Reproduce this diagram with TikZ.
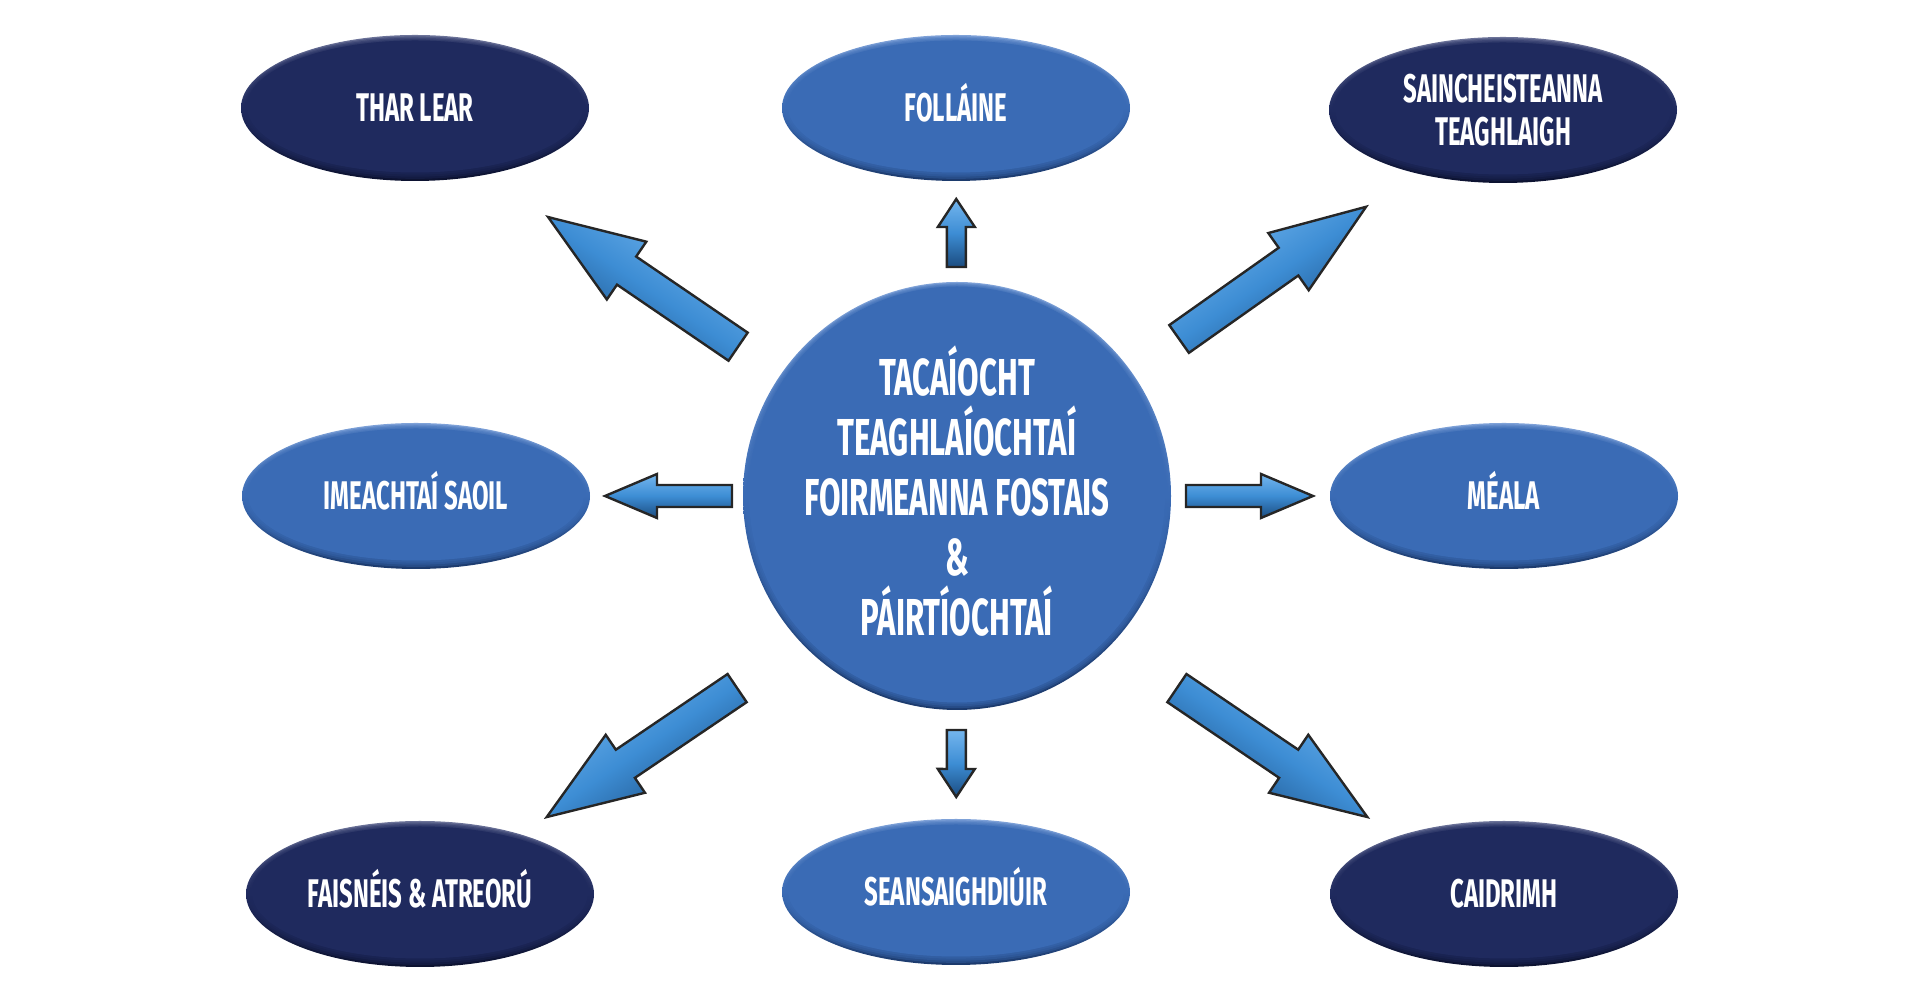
\documentclass[tikz,border=0pt]{standalone}
\usepackage{fontspec}
\newfontfamily\condfont{Fira Sans}[FakeStretch=0.6]
\usetikzlibrary{calc,shapes.geometric}
\definecolor{navy}{HTML}{1F2A5E}
\definecolor{navyrim}{HTML}{6C7399}
\definecolor{navyshade}{HTML}{0C1230}
\definecolor{midblue}{HTML}{3A6BB5}
\definecolor{bluerim}{HTML}{7FA2D8}
\definecolor{blueshade}{HTML}{1C3A6C}
\definecolor{arrowblue}{HTML}{3D8DD4}
\definecolor{arrowlite}{HTML}{74B6EE}
\definecolor{arrowdark}{HTML}{1B4C80}
\definecolor{arrowline}{HTML}{262626}

\begin{document}
\begin{tikzpicture}[
  x=1pt, y=1pt,
  % soft bevel: a few faint inner ellipses, then the flat face
  ovalrim/.style={path picture={
      \foreach \k in {1,...,4}{
        \fill[#1, opacity=0.35] ([yshift=0.375*\k]path picture bounding box.center)
          ellipse [x radius=174-1.5*\k, y radius=73-1.75*\k];
      }
      \fill[#1] ([yshift=1.5]path picture bounding box.center)
        ellipse [x radius=168, y radius=66];
  }},
  hubrim/.style={path picture={
      \foreach \k in {1,...,4}{
        \fill[#1, opacity=0.35] ([yshift=0.375*\k]path picture bounding box.center)
          circle [radius=214-1.5*\k];
      }
      \fill[#1] ([yshift=1.5]path picture bounding box.center) circle [radius=208];
  }},
  oval/.style={ellipse, minimum width=348pt, minimum height=146pt, inner sep=0pt,
               text=white, align=center,
               font={\condfont\bfseries\fontsize{40}{43}\selectfont}},
  % one-line labels: accents must not push the caps off centre
  oneline/.style={text height=27.6pt, text depth=0pt},
  navyoval/.style={oval, top color=navyrim, bottom color=navyshade,
                   middle color=navy, ovalrim=navy},
  blueoval/.style={oval, top color=bluerim, bottom color=blueshade,
                   middle color=midblue, ovalrim=midblue},
  hub/.style={circle, minimum size=428pt, inner sep=0pt, top color=bluerim,
              bottom color=blueshade, middle color=midblue, hubrim=midblue},
  hubtext/.style={text=white, align=center, inner sep=0pt,
                  font={\condfont\bfseries\fontsize{52}{60}\selectfont}},
  blockarrow/.style={draw=arrowline, line width=2.4pt, line join=miter,
                     top color=arrowlite, bottom color=arrowdark,
                     middle color=arrowblue}
]
\useasboundingbox (0,0) rectangle (1920,1000);

% ══ centre ═════════════════════════════════════════════════════════════════
\node[hub] (hub) at (957,504) {};
\node[hubtext] (hubtxt) at ([yshift=5pt]hub.center)
  {TACAÍOCHT\\TEAGHLAÍOCHTAÍ\\FOIRMEANNA FOSTAIS\\\&\\PÁIRTÍOCHTAÍ};

% ══ outer ovals ════════════════════════════════════════════════════════════
\node[navyoval, oneline] (thar)     at ( 415,892) {THAR LEAR};
\node[blueoval, oneline] (follaine) at ( 956,892) {FOLLÁINE};
\node[navyoval]          (sain)     at (1503,890) {SAINCHEISTEANNA\\TEAGHLAIGH};
\node[blueoval, oneline] (imeacht)  at ( 416,504) {IMEACHTAÍ SAOIL};
\node[blueoval, oneline] (meala)    at (1504,504) {MÉALA};
\node[navyoval, oneline] (faisneis) at ( 420,106) {FAISNÉIS \& ATREORÚ};
\node[blueoval, oneline] (seans)    at ( 956,108) {SEANSAIGHDIÚIR};
\node[navyoval, oneline] (caidrimh) at (1504,106) {CAIDRIMH};

% ══ block arrows, hub -> oval ══════════════════════════════════════════════
% target / tail dist / tail turn / tip dist / tip turn / half shaft / half head
% / head length / shading angle
\foreach \tgt/\ds/\as/\de/\ae/\sw/\hw/\hl/\sa in {
    thar/265pt/1.3/495pt/1.3/17pt/35pt/95pt/-34.4,
    follaine/229pt/0/297pt/0/9.5pt/18.5pt/28pt/0,
    sain/272pt/0/501pt/0/17pt/35pt/95pt/34.1,
    imeacht/225pt/0/352pt/0/11pt/22pt/52pt/0,
    meala/229pt/0/356pt/0/11pt/22pt/52pt/0,
    faisneis/292pt/4.6/521pt/1.5/17pt/35pt/95pt/34.2,
    seans/234pt/0/301pt/0/9.5pt/18.5pt/28pt/0,
    caidrimh/292pt/-5.1/521pt/-2/17pt/35pt/95pt/-34.2}{
  \path ($(hub)!\ds!\as:(\tgt)$) coordinate (s-\tgt)
        ($(hub)!\de!\ae:(\tgt)$) coordinate (e-\tgt);
  \path ($(e-\tgt)!\hl!(s-\tgt)$) coordinate (b-\tgt);
  \draw[blockarrow, shading angle=\sa]
    ($(s-\tgt)!\sw!90:(e-\tgt)$) -- ($(b-\tgt)!\sw!90:(e-\tgt)$)
    -- ($(b-\tgt)!\hw!90:(e-\tgt)$) -- (e-\tgt)
    -- ($(b-\tgt)!\hw!-90:(e-\tgt)$) -- ($(b-\tgt)!\sw!-90:(e-\tgt)$)
    -- ($(s-\tgt)!\sw!-90:(e-\tgt)$) -- cycle;
}

\end{tikzpicture}
\end{document}
